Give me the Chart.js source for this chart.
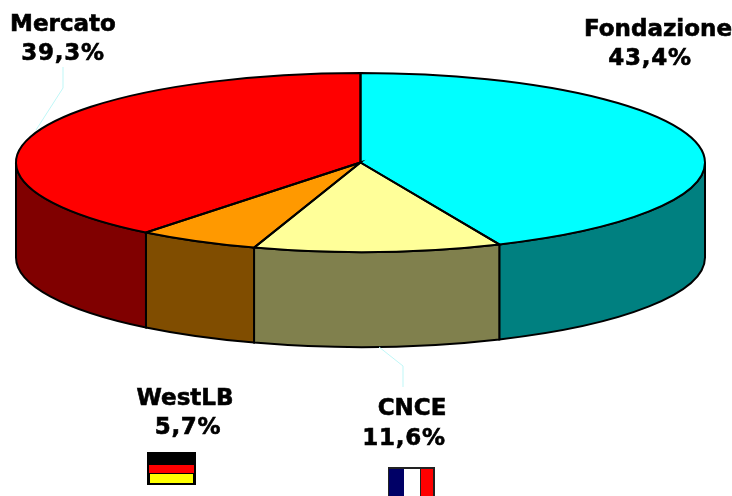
<!DOCTYPE html>
<html>
<head>
<meta charset="utf-8">
<style>
  html, body { margin: 0; padding: 0; background: #fff; overflow: hidden; }
  canvas { display: block; }
</style>
<script src="https://cdn.jsdelivr.net/npm/chart.js@4"></script>
</head>
<body>
<canvas id="pie" width="732" height="496"></canvas>
<script>
const categories = ["Fondazione", "CNCE", "WestLB", "Mercato"];
const shares = [43.4, 11.6, 5.7, 39.3];
const shareLabels = ["43,4%", "11,6%", "5,7%", "39,3%"];

const topColors = ["#00ffff", "#ffff99", "#ff9900", "#ff0000"];
const wallColors = ["#008080", "#80804d", "#804d00", "#800000"];

// where the 3d pie sits on the page
const pieX = 360.5, pieY = 162.5, pieRx = 344.5, pieRy = 89.5, pieDepth = 95;

// name line and value line of each label: [centre x, baseline y]
const namePos = [[658, 36], [412, 415], [185, 405], [63, 31]];
const valuePos = [[650, 65], [404, 445], [188, 434], [63, 60]];

const leaderLines = [
    [[63, 67], [63, 88], [36, 130]],
    [[379, 347], [403, 366], [403, 387]]
];

function drawWalls(ctx, arcs) {
    arcs.forEach(function (arc, i) {
        let from = Math.max(arc.startAngle, 0);
        let to = Math.min(arc.endAngle, Math.PI);
        if (to <= from) return;
        ctx.beginPath();
        ctx.ellipse(pieX, pieY + pieDepth, pieRx, pieRy, 0, from, to);
        ctx.ellipse(pieX, pieY, pieRx, pieRy, 0, to, from, true);
        ctx.closePath();
        ctx.fillStyle = wallColors[i];
        ctx.fill();
        ctx.lineWidth = 2;
        ctx.strokeStyle = "#000";
        ctx.stroke();
    });
}

function drawOutlines(ctx, arcs) {
    ctx.lineWidth = 2;
    ctx.strokeStyle = "#000";
    arcs.forEach(function (arc) {
        ctx.beginPath();
        ctx.moveTo(pieX, pieY);
        ctx.ellipse(pieX, pieY, pieRx, pieRy, 0, arc.startAngle, arc.endAngle);
        ctx.closePath();
        ctx.stroke();
    });
}

function drawFlags(ctx) {
    // germany
    ctx.fillStyle = "#000";
    ctx.fillRect(147, 452, 49, 33);
    ctx.fillStyle = "#ff0000";
    ctx.fillRect(149, 465, 45, 8);
    ctx.fillStyle = "#ffff00";
    ctx.fillRect(150, 474, 43, 9);
    // france, cut by the bottom of the page
    ctx.fillStyle = "#222";
    ctx.fillRect(388, 467, 47, 29);
    ctx.fillStyle = "#000066";
    ctx.fillRect(389, 469, 15, 27);
    ctx.fillStyle = "#fff";
    ctx.fillRect(404, 469, 16, 27);
    ctx.fillStyle = "#ff0000";
    ctx.fillRect(421, 469, 12, 27);
}

function drawLabels(ctx) {
    ctx.fillStyle = "#000";
    ctx.strokeStyle = "#000";
    ctx.lineWidth = 0.6;
    ctx.font = "bold 23px 'DejaVu Sans'";
    ctx.textAlign = "center";
    ctx.textBaseline = "alphabetic";
    categories.forEach(function (name, i) {
        ctx.letterSpacing = "0px";
        ctx.fillText(name, namePos[i][0], namePos[i][1]);
        ctx.strokeText(name, namePos[i][0], namePos[i][1]);
        // the percentages run a bit wider than the names
        ctx.letterSpacing = "0.7px";
        ctx.fillText(shareLabels[i], valuePos[i][0], valuePos[i][1]);
        ctx.strokeText(shareLabels[i], valuePos[i][0], valuePos[i][1]);
    });
}

const pie3d = {
    id: "pie3d",
    beforeDatasetsDraw(chart) {
        let ctx = chart.ctx;
        let arcs = chart.getDatasetMeta(0).data;
        drawWalls(ctx, arcs);
        // squash the flat pie into the top ellipse
        ctx.save();
        ctx.translate(pieX, pieY);
        ctx.scale(pieRx / arcs[0].outerRadius, pieRy / arcs[0].outerRadius);
        ctx.translate(-arcs[0].x, -arcs[0].y);
    },
    afterDatasetsDraw(chart) {
        let ctx = chart.ctx;
        ctx.restore();
        drawOutlines(ctx, chart.getDatasetMeta(0).data);

        ctx.strokeStyle = "#bff7f7";
        ctx.lineWidth = 1;
        leaderLines.forEach(function (line) {
            ctx.beginPath();
            line.forEach(function (p, i) {
                if (i == 0) ctx.moveTo(p[0], p[1]);
                else ctx.lineTo(p[0], p[1]);
            });
            ctx.stroke();
        });

        drawFlags(ctx);
        drawLabels(ctx);
    }
};

new Chart(document.getElementById("pie").getContext("2d"), {
    type: "pie",
    data: {
        labels: categories,
        datasets: [{
            data: shares,
            backgroundColor: topColors,
            borderWidth: 0
        }]
    },
    options: {
        responsive: false,
        animation: false,
        plugins: {
            legend: { display: false },
            tooltip: { enabled: false }
        }
    },
    plugins: [pie3d]
});
</script>
</body>
</html>
